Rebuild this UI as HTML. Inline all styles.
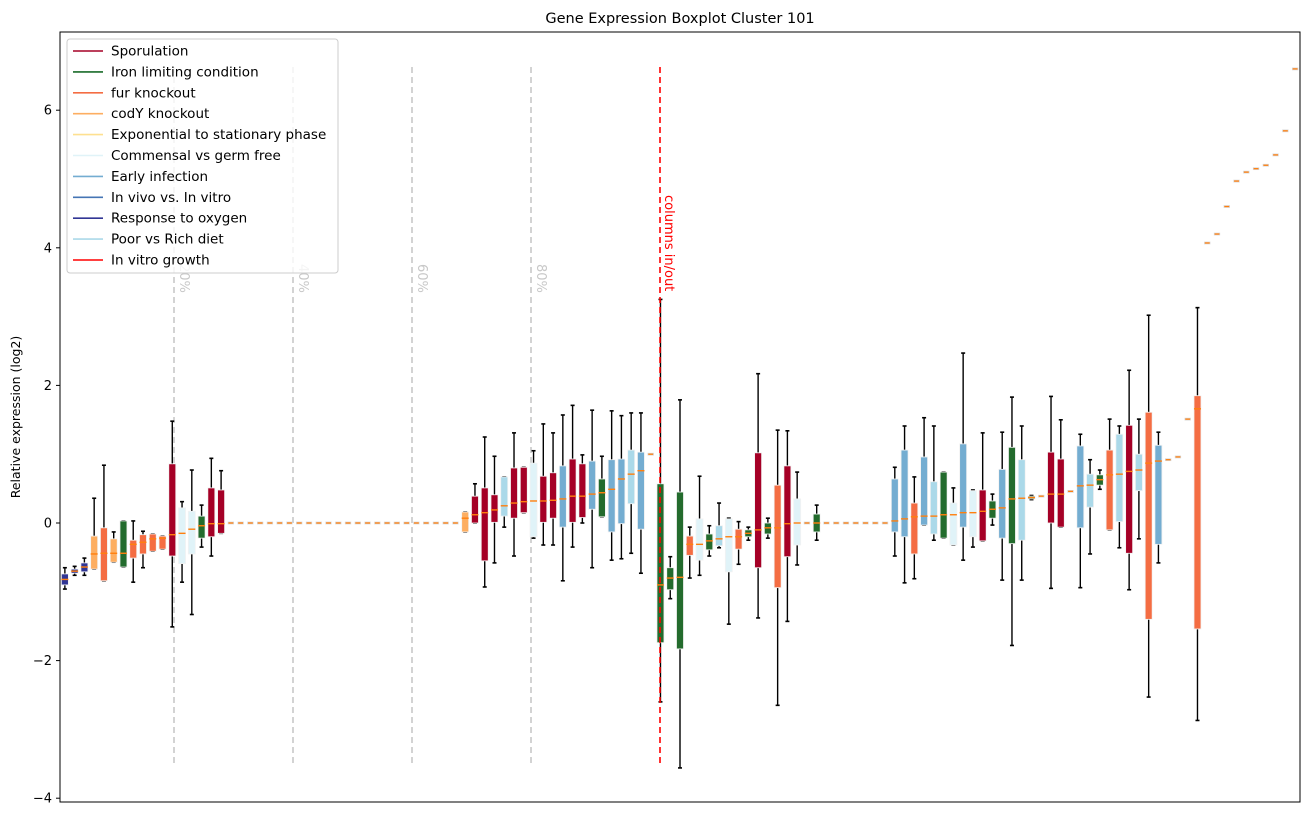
<!DOCTYPE html>
<html><head><meta charset="utf-8"><style>
html,body{margin:0;padding:0;background:#fff;}
svg{display:block;font-family:"DejaVu Sans","Liberation Sans",sans-serif;}
</style></head><body>
<svg id="chart" width="1309" height="816" viewBox="0 0 1309 816" xmlns="http://www.w3.org/2000/svg">
<rect x="0" y="0" width="1309" height="816" fill="#fff"/>
<text x="680" y="23" text-anchor="middle" font-size="14.5">Gene Expression Boxplot Cluster 101</text>
<text transform="translate(20,417) rotate(-90)" text-anchor="middle" font-size="12.5">Relative expression (log2)</text>
<g id="plot"></g>
<rect x="60" y="32" width="1240" height="770" fill="none" stroke="#000" stroke-width="1"/>
<g id="axis"></g>
<g id="legend"></g>
</svg>
<script>
const _ = null;
const groups = ["O","O","O","C","F","C","I","F","F","F","F","S","M","M","I","S","S",
"X","X","X","X","X","X","X","X","X","X","X","X","X","X","X","X","X","X","X","X","X","X","X","X",
"C","S","S","S","P","S","S","M","S","S","A","S","S","A","I","A","A","P","A","X",
"I","I","I","F","M","I","P","M","F","I","S","I","F","S","M","X","I",
"X","X","X","X","X","X","X",
"A","A","F","A","P","I","M","A","M","S","I","A","I","P","I","X","S","S","X","A","P","I","F","P","S","P","F","A","X","X","X","F",
"X","X","X","X","X","X","X","X","X","X"];
const medians = [-0.82,-0.70,-0.64,-0.45,-0.44,-0.44,-0.44,-0.31,-0.28,-0.23,-0.22,-0.17,-0.15,-0.09,-0.04,-0.01,-0.01,
0,0,0,0,0,0,0,0,0,0,0,0,0,0,0,0,0,0,0,0,0,0,0,0,
0.07,0.12,0.15,0.19,0.25,0.29,0.31,0.32,0.32,0.33,0.35,0.39,0.39,0.42,0.44,0.49,0.64,0.71,0.76,1.0,
-0.90,-0.80,-0.79,-0.31,-0.31,-0.26,-0.23,-0.20,-0.20,-0.15,-0.10,-0.07,-0.07,-0.01,0.0,0,0,
0,0,0,0,0,0,0,
0.03,0.06,0.09,0.10,0.10,0.12,0.12,0.15,0.15,0.17,0.20,0.22,0.35,0.36,0.37,0.39,0.42,0.42,0.46,0.54,0.55,0.63,0.70,0.71,0.75,0.77,0.87,0.90,0.92,0.96,1.51,1.66,
4.07,4.2,4.6,4.97,5.1,5.15,5.2,5.35,5.7,6.6];
const q1s = [-0.90,-0.73,-0.71,-0.67,-0.84,-0.57,-0.64,-0.51,-0.45,-0.41,-0.38,-0.48,-0.59,-0.45,-0.22,-0.20,-0.15,
_,_,_,_,_,_,_,_,_,_,_,_,_,_,_,_,_,_,_,_,_,_,_,_,
-0.13,0.0,-0.55,0.01,0.10,0.07,0.15,-0.20,0.01,0.07,-0.06,0.01,0.08,0.20,0.09,-0.13,-0.01,0.28,-0.09,_,
-1.74,-0.97,-1.83,-0.47,-0.54,-0.39,-0.33,-0.71,-0.38,-0.20,-0.65,-0.16,-0.94,-0.49,-0.32,_,-0.13,
_,_,_,_,_,_,_,
-0.13,-0.20,-0.45,-0.03,-0.16,-0.22,-0.32,-0.06,-0.20,-0.26,0.07,-0.22,-0.30,-0.25,0.35,_,0.0,-0.06,_,-0.07,0.23,0.55,-0.10,0.02,-0.44,0.47,-1.40,-0.31,_,_,_,-1.54,
_,_,_,_,_,_,_,_,_,_];
const q3s = [-0.74,-0.67,-0.58,-0.19,-0.07,-0.23,0.03,-0.25,-0.17,-0.16,-0.19,0.86,0.22,0.17,0.10,0.51,0.48,
_,_,_,_,_,_,_,_,_,_,_,_,_,_,_,_,_,_,_,_,_,_,_,_,
0.16,0.39,0.51,0.41,0.67,0.80,0.81,0.87,0.68,0.73,0.83,0.93,0.86,0.90,0.64,0.92,0.93,1.06,1.03,_,
0.57,-0.65,0.45,-0.19,0.06,-0.16,-0.04,0.06,-0.09,-0.10,1.02,0.0,0.55,0.83,0.35,_,0.13,
_,_,_,_,_,_,_,
0.64,1.06,0.29,0.96,0.60,0.74,0.29,1.15,0.47,0.48,0.32,0.78,1.10,0.92,0.39,_,1.03,0.93,_,1.12,0.71,0.70,1.06,1.29,1.42,1.00,1.61,1.13,_,_,_,1.85,
_,_,_,_,_,_,_,_,_,_];
const whiskLo = [-0.96,-0.76,-0.76,-0.67,-0.84,-0.57,-0.64,-0.86,-0.65,-0.41,-0.38,-1.51,-0.86,-1.33,-0.35,-0.48,-0.15,
_,_,_,_,_,_,_,_,_,_,_,_,_,_,_,_,_,_,_,_,_,_,_,_,
-0.13,0.0,-0.93,-0.58,-0.06,-0.48,0.15,-0.22,-0.32,-0.32,-0.84,-0.35,0.0,-0.65,0.09,-0.54,-0.52,-0.44,-0.73,_,
-2.6,-1.10,-3.56,-0.80,-0.76,-0.48,-0.36,-1.47,-0.60,-0.25,-1.38,-0.22,-2.65,-1.43,-0.61,_,-0.25,
_,_,_,_,_,_,_,
-0.48,-0.87,-0.81,-0.03,-0.25,-0.22,-0.32,-0.54,-0.35,-0.26,-0.03,-0.83,-1.78,-0.83,0.34,_,-0.95,-0.06,_,-0.94,-0.45,0.49,-0.10,-0.36,-0.97,-0.23,-2.53,-0.58,_,_,_,-2.87,
_,_,_,_,_,_,_,_,_,_];
const whiskHi = [-0.65,-0.63,-0.51,0.36,0.84,-0.13,0.03,0.03,-0.12,-0.16,-0.19,1.48,0.31,0.77,0.26,0.94,0.76,
_,_,_,_,_,_,_,_,_,_,_,_,_,_,_,_,_,_,_,_,_,_,_,_,
0.16,0.57,1.25,0.97,0.67,1.31,0.81,1.05,1.44,1.31,1.57,1.71,0.99,1.64,0.97,1.63,1.56,1.60,1.60,_,
3.25,-0.49,1.79,-0.06,0.68,-0.04,0.29,0.07,0.02,-0.06,2.17,0.07,1.35,1.34,0.74,_,0.26,
_,_,_,_,_,_,_,
0.81,1.41,0.67,1.53,1.41,0.74,0.51,2.47,0.48,1.31,0.42,1.32,1.83,1.41,0.40,_,1.84,1.50,_,1.29,0.92,0.77,1.51,1.41,2.22,1.51,3.02,1.32,_,_,_,3.13,
_,_,_,_,_,_,_,_,_,_];
const yTicks = [-4,-2,0,2,4,6];
const legendNames = ["Sporulation","Iron limiting condition","fur knockout","codY knockout","Exponential to stationary phase","Commensal vs germ free","Early infection","In vivo vs. In vitro","Response to oxygen","Poor vs Rich diet","In vitro growth"];
const legendColors = ["#a50026","#1a6b2a","#f46d43","#fdae61","#fee090","#e0f3f8","#74add1","#4575b4","#313695","#abd9e9","#ff0000"];
const groupColor = {S:"#a50026",I:"#236b2d",F:"#f46d43",C:"#fdae61",E:"#fee090",M:"#e0f3f8",A:"#74add1",V:"#4575b4",O:"#313695",P:"#abd9e9"};
const cutPositions = [0.2,0.4,0.6,0.8];
const cutLabels = ["20%","40%","60%","80%"];

const NS="http://www.w3.org/2000/svg";
const L=60,R=1300,T=32,B=802;
const n=groups.length;
const xS=i=>L+(R-L)*(i+0.5)/n;
const yS=v=>523-68.8*v;
function mk(tag,attrs,parent){const e=document.createElementNS(NS,tag);for(const k in attrs)e.setAttribute(k,attrs[k]);parent.appendChild(e);return e;}
const plot=document.getElementById('plot');
const axis=document.getElementById('axis');
const leg=document.getElementById('legend');

cutPositions.forEach((p,k)=>{
  const x=174+(531-174)/3*k;
  const ln=mk('line',{x1:x,x2:x,y1:67,y2:767,stroke:'#c8c8c8','stroke-width':1.6,'stroke-dasharray':'6,4'},plot);
  
  
  const t=mk('text',{transform:`translate(${x+6},264) rotate(90)`,'font-size':13,fill:'#c8c8c8'},plot);
  t.textContent=cutLabels[k];
  
  
});

const bw=7;
for(let i=0;i<n;i++){
  const x=xS(i), m=medians[i];
  const g=mk('g',{},plot);
  
  
  if(groups[i]==='X'){
    mk('rect',{x:x-2.8,y:yS(m)-1,width:5.6,height:2,fill:'#ff7f0e',stroke:'#d8d8d8','stroke-width':0.7},g);
    continue;
  }
  const lo=whiskLo[i],hi=whiskHi[i],a=q1s[i],b=q3s[i];
  mk('line',{x1:x,x2:x,y1:yS(hi),y2:yS(b),stroke:'#000','stroke-width':1.4},g);
  mk('line',{x1:x,x2:x,y1:yS(a),y2:yS(lo),stroke:'#000','stroke-width':1.4},g);
  mk('line',{x1:x-2,x2:x+2,y1:yS(hi),y2:yS(hi),stroke:'#000','stroke-width':1.6},g);
  mk('line',{x1:x-2,x2:x+2,y1:yS(lo),y2:yS(lo),stroke:'#000','stroke-width':1.6},g);
  mk('rect',{x:x-bw/2,y:yS(b),width:bw,height:Math.max(yS(a)-yS(b),1),fill:groupColor[groups[i]],stroke:'#f2f2f2','stroke-width':0.8},g);
  mk('line',{x1:x-bw/2,x2:x+bw/2,y1:yS(m),y2:yS(m),stroke:'#ff7f0e','stroke-width':1.4},g);
}

const ioX=660;
const io=mk('line',{x1:ioX,x2:ioX,y1:67,y2:767,stroke:'#ff0000','stroke-width':1.6,'stroke-dasharray':'6,4'},plot);


const iot=mk('text',{transform:`translate(${ioX+5},195) rotate(90)`,'font-size':13,fill:'#ff0000'},plot);
iot.textContent='columns in/out';



yTicks.forEach(v=>{
  const y=yS(v);
  mk('line',{x1:L-4,x2:L,y1:y,y2:y,stroke:'#000','stroke-width':1},axis);
  const t=mk('text',{x:L-8,y:y+4.5,'text-anchor':'end','font-size':13},axis);
  t.textContent=(v<0?'\u2212'+(-v):v);
  
  
});

const lb=mk('rect',{x:67,y:39,width:271,height:234,rx:3,fill:'#fff','fill-opacity':0.8,stroke:'#ccc','stroke-width':1},leg);


legendNames.forEach((nm,k)=>{
  const y=51+k*20.9;
  const g=mk('g',{},leg);
  
  
  mk('line',{x1:73,x2:103,y1:y,y2:y,stroke:legendColors[k],'stroke-width':1.6},g);
  const t=mk('text',{x:111,y:y+4.5,'font-size':13.5},g);
  t.textContent=nm;
});
</script>
</body></html>
